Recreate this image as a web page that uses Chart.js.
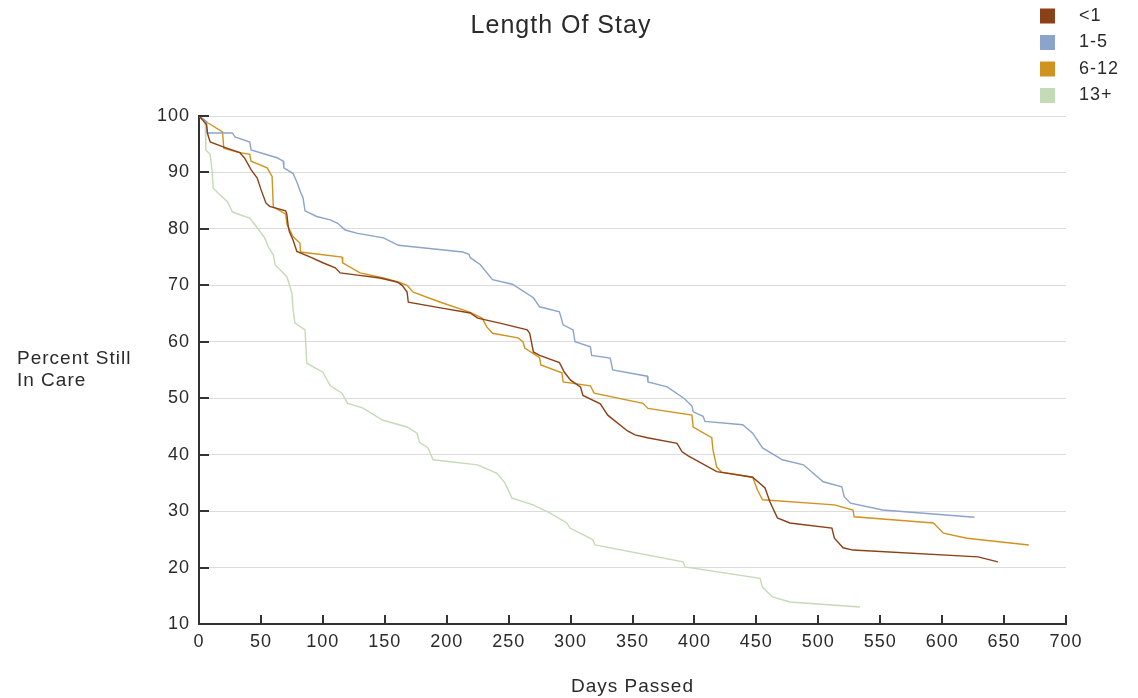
<!DOCTYPE html>
<html><head><meta charset="utf-8">
<script src="https://cdn.jsdelivr.net/npm/chart.js@4.4.1/dist/chart.umd.min.js"></script>
<style>html,body{margin:0;padding:0;background:#fff}</style>
</head><body>
<canvas id="c" width="1138" height="698" style="width:1138px;height:698px;display:block"></canvas>
<script>
const chartTitle = 'Length Of Stay';
const xAxisTitle = 'Days Passed';
const yTitleLines = ['Percent Still', 'In Care'];
const seriesNames = ['<1', '1-5', '6-12', '13+'];
const seriesColors = ['#8B4116', '#8CA3CB', '#D1931F', '#C3DBB6'];

const ltOneDays = [0,6,7,9,20,33,37,42,47,50,54,57,70,71,72,73,76,79,90,100,110,114,128,146,160,164,168,169,195,219,225,243,265,267,270,275,291,295,300,308,310,324,330,346,352,362,386,390,395,418,447,457,461,467,477,511,513,520,528,629,645];
const ltOneVals = [100,98.5,96.8,95.4,94.5,93.5,92.5,90.5,89,87,84.6,84,83.2,82.5,80.5,79.5,78,76,75,74,73.1,72.2,71.8,71.3,70.6,70,68.8,67,66,65.1,64.2,63.3,62.1,61.5,58.2,57.6,56.3,54.6,53.2,52,50.5,49,47,44.2,43.5,43,42,40.5,39.8,37,36,34.1,31.6,28.8,27.9,27,25.2,23.5,23.1,21.9,21];

const oneFiveDays = [0,6,6.5,27,29,41,42,63,68,68.5,76,79,82,84,85.6,95,106,112,118,128,149,161,213,218,219,227,237,253,270,275,291,294,302,303.6,316,317,332,334,362,362.5,378,392,398,399,407,408.5,439,447,455,471,488,504,519,521,526,552,626];
const oneFiveVals = [100,99,97,97,96.3,95.4,94,92.6,92,90.8,89.8,88.3,86.5,85.5,83.2,82.2,81.6,81,79.8,79.2,78.4,77.1,75.9,75.5,74.9,73.7,71,70.2,67.8,66.2,65.3,63,62.1,60,59.1,57.6,57.1,55,53.9,52.9,52,49.9,48.6,47.6,46.8,45.9,45.3,43.8,41.2,39.1,38.2,35.2,34.3,32.5,31.4,30.2,28.9];

const sixTwelveDays = [0,7,19,20,31,41,42,55,59,60,70,71,76,81.5,82,115.5,116,130,149,162,168,173,195,219,228.5,232.5,237,257.5,261.6,263,275,276,293,294,316,319,358.5,362.5,398,399,414,415,418,422,447,451,455,513,528,529,593,601,620,670];
const sixTwelveVals = [100,98.8,97.2,94.3,93.6,93.2,92,90.8,89.3,83.9,82.6,80.8,78.6,77.5,75.9,75,74,72.2,71.3,70.5,70,68.8,67,65.2,64.2,62.6,61.5,60.7,60,58.9,57.2,55.9,54.5,52.9,52.2,50.9,49.1,48.2,47,44.9,43,40.8,37.8,36.9,36,33.7,32,31.1,30.2,29,27.9,26.1,25.2,24];

const thirteenDays = [0,5,5.5,9,10.5,11.5,17,23,27,33,41,47,53,56,60,61.5,68,71,75,76,77.5,85.6,87,100,106,115.5,120,132,148.6,168,176,178,185,189,225,240.6,247,252.7,269.7,283,297,299.5,315.7,318,319.7,390.8,392.4,453,455,463,477,533.7];
const thirteenVals = [100,99,94,93.2,90.5,87.2,86,84.8,83,82.5,81.9,80.2,78.4,76.8,75.4,73.6,72.2,71.5,68.6,65.6,63.3,62.1,56.2,54.6,52.2,50.9,49.1,48.3,46.1,44.9,43.8,42.2,41.2,39.1,38.2,36.7,35,32.3,31.1,29.7,27.9,27,25.2,24.9,24,21,20.1,18.1,16.5,14.8,13.9,13];

const xMin = 0, xMax = 700, xStep = 50;
const yMin = 10, yMax = 100, yStep = 10;

function pts(d, v) { return d.map((x, i) => ({ x: x, y: v[i] })); }
const allDays = [ltOneDays, oneFiveDays, sixTwelveDays, thirteenDays];
const allVals = [ltOneVals, oneFiveVals, sixTwelveVals, thirteenVals];

const FONT = "'Liberation Sans', Arial, sans-serif";
const TXT = '#2a2a2a';

const decor = {
  id: 'decor',
  beforeDraw(chart) {
    chart.ctx.letterSpacing = '1px';
  },
  afterDraw(chart) {
    const ctx = chart.ctx, a = chart.chartArea;
    const xs = chart.scales.x, ys = chart.scales.y;
    ctx.save();
    ctx.strokeStyle = '#333';
    ctx.lineWidth = 2;
    ys.ticks.forEach(t => {
      const py = Math.round(ys.getPixelForValue(t.value));
      ctx.beginPath(); ctx.moveTo(a.left, py); ctx.lineTo(a.left + 10, py); ctx.stroke();
    });
    xs.ticks.forEach(t => {
      const px = Math.round(xs.getPixelForValue(t.value));
      ctx.beginPath(); ctx.moveTo(px, a.bottom); ctx.lineTo(px, a.bottom - 9); ctx.stroke();
    });
    ctx.fillStyle = TXT;
    ctx.font = '19px ' + FONT;
    ctx.textAlign = 'left';
    ctx.textBaseline = 'middle';
    yTitleLines.forEach((s, i) => ctx.fillText(s, 17, 359 + i * 22));
    ctx.font = '18px ' + FONT;
    chart.data.datasets.forEach((ds, i) => {
      const cy = 16 + i * 26.5;
      ctx.fillStyle = seriesColors[i];
      ctx.fillRect(1040, cy - 7.5, 15, 15);
      ctx.fillStyle = TXT;
      ctx.fillText(ds.label, 1079, cy);
    });
    ctx.restore();
  }
};

new Chart(document.getElementById('c'), {
  type: 'line',
  data: {
    datasets: seriesNames.map((n, i) => ({
      label: n,
      data: pts(allDays[i], allVals[i]),
      borderColor: seriesColors[i],
      backgroundColor: seriesColors[i],
      borderWidth: 1.4,
      pointRadius: 0,
      tension: 0,
      fill: false
    }))
  },
  options: {
    responsive: false,
    devicePixelRatio: 1,
    animation: false,
    layout: { padding: { left: 0, right: 16, top: 0, bottom: 0 } },
    plugins: {
      legend: { display: false },
      tooltip: { enabled: false },
      title: {
        display: true, text: chartTitle, color: TXT,
        font: { family: FONT, size: 25, weight: 'normal', lineHeight: 1.2 },
        padding: { top: 11, bottom: 75 }
      }
    },
    scales: {
      x: {
        type: 'linear', min: xMin, max: xMax,
        ticks: { stepSize: xStep, color: TXT, font: { family: FONT, size: 18 }, padding: 7, maxRotation: 0 },
        grid: { drawOnChartArea: false, drawTicks: false },
        border: { color: '#333', width: 2 },
        title: { display: true, text: xAxisTitle, color: TXT, font: { family: FONT, size: 19 }, padding: { top: 0, bottom: 0 } },
        afterFit(s) { s.height = 74; }
      },
      y: {
        type: 'linear', min: yMin, max: yMax,
        ticks: { stepSize: yStep, color: TXT, font: { family: FONT, size: 18 }, padding: 9 },
        grid: { color: '#dcdcdc', lineWidth: 1, drawTicks: false },
        border: { color: '#333', width: 2 },
        afterFit(s) { s.width = 199; }
      },
      y2: {
        type: 'linear', position: 'right', min: yMin, max: yMax,
        ticks: { display: false },
        grid: { display: false, drawOnChartArea: false },
        border: { display: false },
        afterFit(s) { s.width = 56; }
      }
    }
  },
  plugins: [decor]
});
</script>
</body></html>
